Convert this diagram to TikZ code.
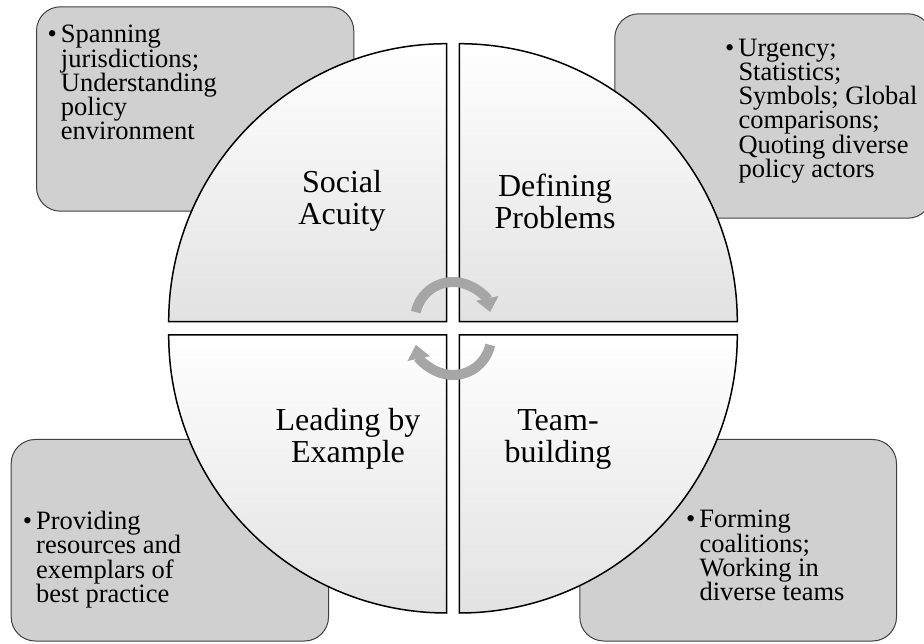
\documentclass[tikz,border=0pt]{standalone}
\usepackage{fontspec}
\setmainfont{Liberation Serif}
\usetikzlibrary{arrows.meta}
\definecolor{boxgray}{HTML}{D0D0D0}
\definecolor{arrowgray}{HTML}{A6A6A6}
\definecolor{quadgray}{HTML}{E2E2E2}
\newcommand\bul{\llap{\textbullet\hspace{4pt}}}
\begin{document}
\begin{tikzpicture}[x=1pt,y=1pt,
  infobox/.style={draw=black!75, line width=1pt, fill=boxgray, rounded corners=24pt, anchor=south west, inner sep=0pt},
  quad/.style={draw=black, line width=1.5pt, top color=white, bottom color=quadgray},
  qlabel/.style={font=\fontsize{32}{32}\selectfont, align=center, inner sep=0pt},
  btext/.style={font=\fontsize{26.5}{24.3}\selectfont, align=left, anchor=north west, inner sep=0pt},
  cyc/.style={draw=arrowgray, line width=10pt, -{Triangle[width=22pt,length=14pt]}}]
\useasboundingbox (0,0) rectangle (924,643);
\clip (0,0) rectangle (924,643);
% side boxes
\node[infobox, minimum width=317.3pt, minimum height=204.4pt] (tlbox) at (36,431.3) {};
\node[infobox, minimum width=317pt, minimum height=204.4pt] (trbox) at (614.3,424.3) {};
\node[infobox, minimum width=317.3pt, minimum height=201.5pt] (blbox) at (10.7,1.5) {};
\node[infobox, minimum width=316.7pt, minimum height=201.5pt] (brbox) at (579.3,1.5) {};
% quadrants
\draw[quad] (446.7,321.3) -- (168.7,321.3) arc[start angle=180,end angle=90,radius=278] -- cycle;
\draw[quad] (459.3,321.3) -- (459.3,599.3) arc[start angle=90,end angle=0,radius=278] -- cycle;
\draw[quad] (446.7,308) -- (446.7,30) arc[start angle=270,end angle=180,radius=278] -- cycle;
\draw[quad] (459.3,308) -- (737.3,308) arc[start angle=0,end angle=-90,radius=278] -- cycle;
% quadrant labels
\node[qlabel] (social) at (342,442) {Social\\Acuity};
\node[qlabel] (defining) at (555,442) {Defining\\Problems};
\node[qlabel] (leading) at (348,204) {Leading by\\Example};
\node[qlabel] (team) at (558,204) {Team-\\building};
% box texts
\node[btext] (tltext) at (60.7,618) {\bul Spanning\\jurisdictions;\\Understanding\\policy\\environment};
\node[btext] (trtext) at (738.3,604.5) {\bul Urgency;\\Statistics;\\Symbols; Global\\comparisons;\\Quoting diverse\\policy actors};
\node[btext] (bltext) at (36,132.1) {\bul Providing\\resources and\\exemplars of\\best practice};
\node[btext] (brtext) at (699.3,132.8) {\bul Forming\\coalitions;\\Working in\\diverse teams};
% cycle arrows
\coordinate (cycA) at (453,323);
\coordinate (cycB) at (453,306);
\draw[cyc] (cycA) ++(168:38) arc[start angle=168,end angle=12,radius=38];
\draw[cyc] (cycB) ++(-12:38) arc[start angle=-12,end angle=-168,radius=38];
\end{tikzpicture}
\end{document}
